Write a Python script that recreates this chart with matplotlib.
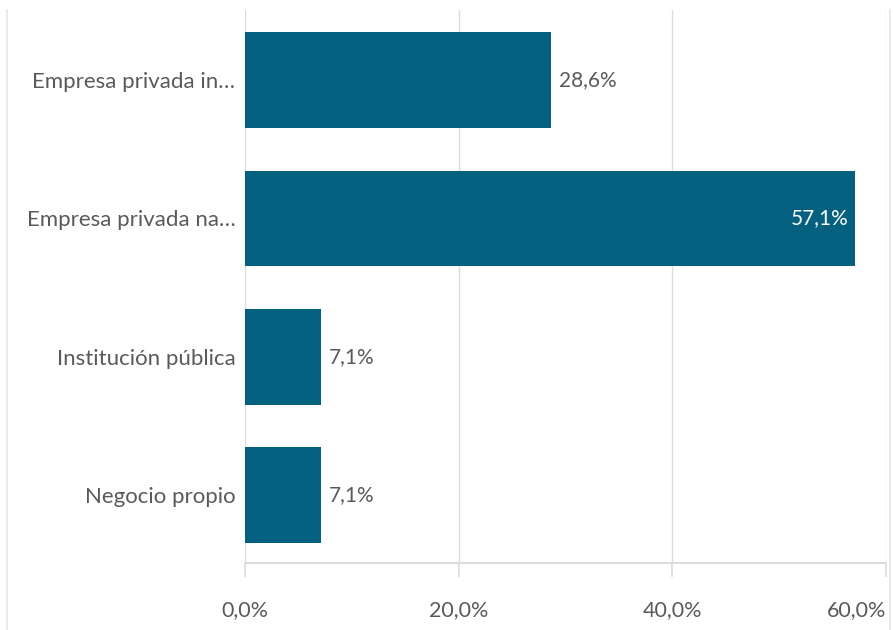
import matplotlib
matplotlib.use("Agg")
import matplotlib.pyplot as plt
from matplotlib.lines import Line2D

# data
categories = ["Empresa privada in\u2026", "Empresa privada na\u2026",
              "Institución pública", "Negocio propio"]
values = [28.6, 57.1, 7.1, 7.1]
xticks = [0, 20, 40, 60]
xtick_labels = ["0,0%", "20,0%", "40,0%", "60,0%"]

bar_color = "#03617f"
text_color = "#5a5a5a"
grid_color = "#dcdcdc"

plt.rcParams['font.family'] = ['Lato', 'DejaVu Sans']

fig = plt.figure(figsize=(8.93, 6.30), dpi=100)
ax = fig.add_axes([245/893, 1-563/630, (886-245)/893, (563-10)/630])

y = list(range(len(categories)))
ax.barh(y, values, height=0.69, color=bar_color, zorder=3)

ax.set_xlim(0, 60)
ax.set_ylim(3.49, -0.505)

ax.set_yticks(y)
ax.set_yticklabels(categories, fontsize=16, color=text_color)
ax.tick_params(axis='y', length=0, pad=7)

ax.set_xticks(xticks)
ax.set_xticklabels(xtick_labels, fontsize=15.5, color=text_color)
ax.tick_params(axis='x', length=10, width=1.2, color=grid_color, pad=17)
# last label sits inside the figure, right aligned on its tick
ax.get_xticklabels()[-1].set_horizontalalignment('right')

ax.grid(axis='x', color=grid_color, linewidth=1, zorder=0)
for s in ['top', 'right', 'left']:
    ax.spines[s].set_visible(False)
ax.spines['bottom'].set_color(grid_color)
ax.spines['bottom'].set_linewidth(1.5)

# value labels
for yi, v in zip(y, values):
    txt = f"{v:.1f}%".replace(".", ",")
    if v > 50:
        ax.annotate(txt, (v, yi), xytext=(-5, 0), textcoords='offset points',
                    ha='right', va='center', fontsize=15, color='white', zorder=4)
    else:
        ax.annotate(txt, (v, yi), xytext=(6, 0), textcoords='offset points',
                    ha='left', va='center', fontsize=15, color=text_color, zorder=4)

# frame lines at the figure edges
fig.add_artist(Line2D([7/893, 7/893], [0, 1-10/630], color="#e6e6e6", lw=1.2))
fig.add_artist(Line2D([890/893, 890/893], [0, 1-10/630], color="#e6e6e6", lw=1.2))

fig.savefig("out.png", dpi=100)
